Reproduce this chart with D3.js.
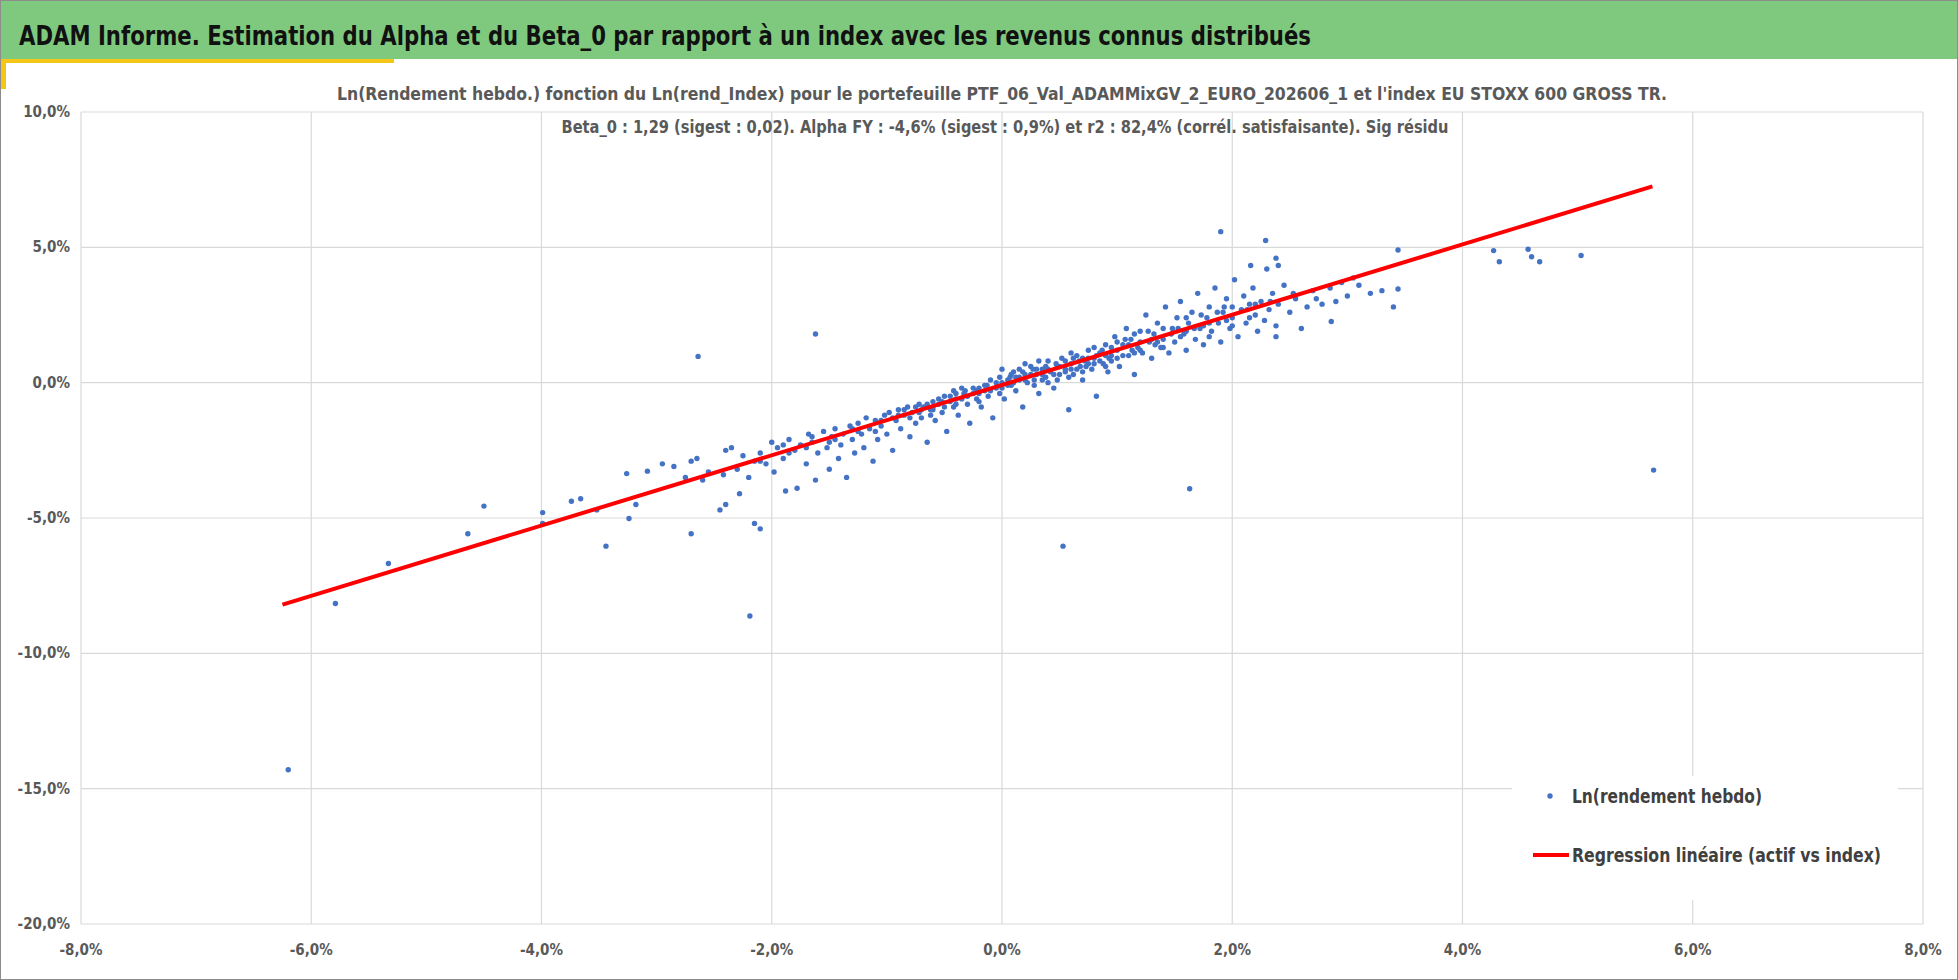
<!DOCTYPE html>
<html><head><meta charset="utf-8">
<script src="https://cdn.jsdelivr.net/npm/d3@7"></script>
<style>body{margin:0;background:#fff;}svg{display:block;}</style>
</head><body>
<script>
const title = "ADAM Informe. Estimation du Alpha et du Beta_0 par rapport à un index avec les revenus connus distribués";
const subtitle1 = "Ln(Rendement hebdo.) fonction du Ln(rend_Index) pour le portefeuille PTF_06_Val_ADAMMixGV_2_EURO_202606_1 et l'index EU STOXX 600 GROSS TR.";
const subtitle2 = "Beta_0 : 1,29 (sigest : 0,02).  Alpha FY : -4,6% (sigest : 0,9%) et r2 : 82,4% (corrél. satisfaisante). Sig résidu";
const xTicks = [-8,-6,-4,-2,0,2,4,6,8];
const yTicks = [10,5,0,-5,-10,-15,-20];
const seriesNames = ["Ln(rendement hebdo)", "Regression linéaire (actif vs index)"];
const regX = [-6.25, 5.65];
const regY = [-8.2, 7.25];
const points = [
[-6.2,-14.3],[-5.79,-8.16],[-5.33,-6.68],[-4.64,-5.58],[-4.5,-4.56],[-3.99,-4.8],[-3.99,-5.2],[-3.74,-4.38],[-3.66,-4.29],[-3.52,-4.7],[-3.44,-6.04],[-3.24,-5.02],[-3.18,-4.5],[-3.26,-3.36],[-3.08,-3.27],[-2.7,-5.58],[-2.64,0.97],[-1.62,1.8],[-2.19,-8.62],[-2.15,-5.2],[-2.1,-5.4],[-2.4,-4.5],[0.53,-6.04],[1.63,-3.92],[5.66,-3.23],[4.57,4.93],[4.6,4.65],[4.67,4.47],[5.03,4.7],[4.27,4.88],[4.32,4.47],[3.44,4.9],[3.44,3.46],[1.9,5.58],[2.29,5.25],[2.16,4.33],[2.38,4.6],[2.4,4.33],[2.86,2.26],[2.38,1.7],[3.05,3.87],
[-2.95,-3.0],[-2.85,-3.1],[-2.75,-3.5],[-2.7,-2.9],[-2.65,-2.8],[-2.6,-3.6],[-2.55,-3.3],[-2.45,-4.7],[-2.42,-3.4],[-2.4,-2.5],[-2.35,-2.4],[-2.3,-3.2],[-2.28,-4.1],[-2.25,-2.7],[-2.2,-3.5],[-2.15,-2.9],[-2.1,-2.6],[-2.05,-3.0],[-2.0,-2.2],[-1.98,-3.3],[-1.95,-2.4],[-1.9,-2.8],[-1.88,-4.0],[-1.85,-2.1],[-1.8,-2.5],[-1.78,-3.9],[-1.75,-2.3],[-1.7,-3.0],[-1.68,-1.9],[-1.65,-2.2],[-1.62,-3.6],[-1.6,-2.6],[-1.55,-1.8],[-1.52,-2.4],[-1.5,-3.2],[-1.48,-2.0],[-1.45,-1.7],[-1.42,-2.8],[-1.4,-2.3],[-1.38,-1.9],[-1.35,-3.5],[-1.32,-1.6],[-1.3,-2.1],[-1.28,-2.6],[-1.25,-1.5],[-1.22,-1.9],[-1.2,-2.4],[-1.18,-1.3],[-1.15,-1.7],[-1.12,-2.9],[-1.1,-1.4],[-1.08,-2.1],[-1.05,-1.6],[-1.02,-1.2],[-1.0,-1.9],[-0.98,-1.1],[-0.95,-2.5],[-0.92,-1.4],[-0.9,-1.0],[-0.88,-1.7],[-0.85,-1.2],[-0.82,-0.9],[-0.8,-2.0],[-0.78,-1.1],[-0.75,-1.5],[-0.72,-0.8],[-0.7,-1.3],[-0.68,-0.9],[-0.65,-2.2],[-0.62,-1.0],[-0.6,-0.7],[-0.58,-1.4],[-0.55,-0.8],[-0.52,-1.1],[-0.5,-0.5],[-0.48,-1.8],[-0.45,-0.7],[-0.42,-0.9],[-0.4,-0.4],[-0.38,-1.2],[-0.35,-0.6],[-0.32,-0.3],[-0.3,-0.8],[-0.28,-1.5],[-0.25,-0.4],[-0.22,-0.6],[-0.2,-0.2],[-0.18,-0.9],[-0.15,-0.3],[-0.12,-0.5],[-0.1,0.1],[-0.08,-1.3],[-0.05,-0.2],[-0.02,-0.4],[0,0.0],[0.02,-0.6],[0.05,0.1],[0.08,-0.1],[0.1,0.4],[0.12,-0.3],[0.15,0.2],[0.18,-0.9],[0.2,0.3],[0.22,0.0],[0.25,0.6],[0.28,0.1],[0.3,0.3],[0.32,-0.4],[0.35,0.5],[0.38,0.2],[0.4,0.8],[0.42,0.4],[0.45,-0.2],[0.48,0.6],[0.5,0.3],[0.52,0.9],[0.55,0.5],[0.58,-1.0],[0.6,0.7],[0.62,0.3],[0.65,1.0],[0.68,0.6],[0.7,0.1],[0.72,0.8],[0.75,1.2],[0.78,0.5],[0.8,0.9],[0.82,-0.5],[0.85,1.1],[0.88,0.7],[0.9,1.4],[0.92,0.4],[0.95,1.0],[0.98,1.7],[1.0,1.2],[1.02,0.6],[1.05,1.4],[1.08,2.0],[1.1,1.0],[1.12,1.6],[1.15,0.3],[1.18,1.3],[1.2,1.9],[1.22,1.1],[1.25,2.5],[1.28,1.5],[1.3,0.9],[1.32,1.8],[1.35,2.2],[1.38,1.3],[1.4,1.6],[1.42,2.8],[1.45,1.1],[1.48,2.0],[1.5,1.5],[1.52,2.4],[1.55,3.0],[1.58,1.8],[1.6,1.2],[1.62,2.2],[1.65,2.6],[1.68,1.6],[1.7,3.3],[1.72,2.0],[1.75,1.4],[1.78,2.4],[1.8,2.8],[1.82,1.9],[1.85,3.5],[1.88,2.2],[1.9,1.5],[1.92,2.6],[1.95,3.1],[1.98,2.0],[2.0,2.4],[2.02,3.8],[2.05,1.7],[2.08,2.7],[2.1,3.2],[2.12,2.2],[2.15,2.9],[2.18,3.5],[2.2,2.5],[2.22,1.9],[2.25,3.0],[2.28,2.3],[2.3,4.2],[2.32,2.7],[2.35,3.3],[2.38,2.1],[2.4,2.9],[2.45,3.6],[2.5,2.6],[2.55,3.1],[2.6,2.0],[2.65,2.8],[2.7,3.4],[2.78,2.9],[2.85,3.5],[2.9,3.0],[2.95,3.7],[3.0,3.2],[3.1,3.6],[3.2,3.3],[3.3,3.4],[3.4,2.8],
[-0.9,-1.2],[-0.7,-1.0],[-0.5,-0.9],[-0.3,-0.5],[-0.1,-0.3],[0.1,0.0],[0.3,0.5],[0.5,0.6],[0.7,0.9],[0.9,1.0],[1.1,1.4],[1.3,1.6],[0.15,0.5],[0.35,0.1],[0.55,0.8],[0.75,0.7],[0.95,1.3],[0.45,0.3],[0.65,0.5],[0.85,0.8],[0.25,0.3],[-0.15,-0.1],[-0.35,-0.2],[-0.55,-0.6],[-0.75,-0.9],[-0.95,-1.3],[0.05,-0.1],[0.6,1.1],[0.8,1.3],[1.0,0.9],[1.2,1.5],[1.4,2.0],[1.6,1.9],[1.8,2.2],[2.0,2.8],[-1.1,-1.8],[-1.3,-1.7],[-1.5,-2.2],[-1.7,-2.4],[-1.9,-2.3],[-2.1,-2.9],[0.4,0.0],[0.7,0.4],[0.2,0.7],[0.0,0.5],[-0.2,-0.7],[-0.4,-0.6],[-0.6,-1.0],[0.9,0.6],[1.05,1.0],[1.15,1.8],[0.58,0.2],[0.32,0.8],[0.12,0.2],
[-0.85,-1.0],[-0.65,-0.8],[-0.45,-0.5],[-0.25,-0.2],[-0.05,0.0],[0.15,0.1],[0.35,0.3],[0.55,0.4],[0.75,0.9],[0.95,0.8],[1.15,1.1],[1.35,1.5],[1.55,1.7],[1.75,2.1],[1.95,2.3],[2.15,2.4],[-0.8,-1.3],[-0.6,-0.9],[-0.4,-0.8],[-0.2,-0.4],[0.0,-0.2],[0.2,0.1],[0.4,0.5],[0.6,0.5],[0.8,0.7],[1.0,1.5],[1.2,1.2],[1.4,1.3],[1.6,2.4],[1.8,1.7],[2.0,2.1],[2.2,2.9],[-0.72,-1.1],[-0.52,-0.7],[-0.33,-0.4],[-0.13,-0.1],[0.07,0.2],[0.27,0.5],[0.47,0.7],[0.67,0.8],[0.87,1.2],[1.07,1.6],[1.27,1.9],[1.47,1.8],[1.67,2.0],[1.87,2.6],[-1.05,-1.4],[-1.25,-1.8],[-1.45,-2.1],[-1.65,-2.0],[-1.85,-2.6],[0.38,0.6],[0.62,0.9],[0.82,1.0],[0.18,0.4],[-0.02,0.2],[-0.22,-0.3],[-0.42,-0.3],[-0.62,-1.2],[0.48,0.1],[0.28,-0.1],[0.08,0.3],[0.73,0.6],[0.93,0.9],[1.13,1.2],[1.33,1.4],[1.53,2.0],[1.73,2.5],[1.93,2.8],[2.13,2.7],[2.33,3.0],[2.53,3.3],[2.73,3.1]
];

const W=1958,H=980;
const svg=d3.select("body").append("svg").attr("width",W).attr("height",H);
const font="'DejaVu Sans Condensed','Liberation Sans',sans-serif";
svg.append("rect").attr("x",0.5).attr("y",0.5).attr("width",W-1).attr("height",H-1).attr("fill","#fff").attr("stroke","#8c8c8c");
svg.append("rect").attr("x",1).attr("y",1).attr("width",W-2).attr("height",58).attr("fill","#7fc97f");
svg.append("rect").attr("x",1).attr("y",59).attr("width",393).attr("height",4).attr("fill","#f5c518");
svg.append("rect").attr("x",1).attr("y",59).attr("width",5).attr("height",30).attr("fill","#f5c518");
svg.append("text").attr("x",19).attr("y",45).attr("font-family",font).attr("font-size",27).attr("font-weight","bold").attr("fill","#111")
  .attr("textLength",1292).attr("lengthAdjust","spacingAndGlyphs").text(title);

const x=d3.scaleLinear().domain([-8,8]).range([81,1923]);
const y=d3.scaleLinear().domain([-20,10]).range([924,112]);

const g=svg.append("g");
g.selectAll(".gx").data(xTicks).join("line").attr("x1",d=>x(d)).attr("x2",d=>x(d)).attr("y1",y(10)).attr("y2",y(-20)).attr("stroke","#d9d9d9").attr("stroke-width",1.2);
g.selectAll(".gy").data(yTicks).join("line").attr("y1",d=>y(d)).attr("y2",d=>y(d)).attr("x1",x(-8)).attr("x2",x(8)).attr("stroke","#d9d9d9").attr("stroke-width",1.2);
const fmt=d=>d.toFixed(1).replace(".",",")+"%";
g.selectAll(".ty").data(yTicks).join("text").attr("x",70).attr("y",d=>y(d)+5).attr("text-anchor","end").attr("font-family",font).attr("font-size",15).attr("font-weight","bold").attr("fill","#595959").text(fmt);
g.selectAll(".tx").data(xTicks).join("text").attr("x",d=>x(d)).attr("y",955).attr("text-anchor","middle").attr("font-family",font).attr("font-size",15).attr("font-weight","bold").attr("fill","#595959").text(fmt);

svg.append("text").attr("x",1002).attr("y",100).attr("text-anchor","middle").attr("font-family",font).attr("font-size",18).attr("font-weight","bold").attr("fill","#595959").attr("textLength",1330).attr("lengthAdjust","spacingAndGlyphs").text(subtitle1);
svg.append("text").attr("x",1005).attr("y",133).attr("text-anchor","middle").attr("font-family",font).attr("font-size",18).attr("font-weight","bold").attr("fill","#595959").attr("textLength",887).attr("lengthAdjust","spacingAndGlyphs").text(subtitle2);

g.selectAll(".pt").data(points).join("circle").attr("cx",d=>x(d[0])).attr("cy",d=>y(d[1])).attr("r",2.7).attr("fill","#4472c4");
g.append("line").attr("x1",x(regX[0])).attr("y1",y(regY[0])).attr("x2",x(regX[1])).attr("y2",y(regY[1])).attr("stroke","#ff0000").attr("stroke-width",4);

const lg=svg.append("g");
lg.append("rect").attr("x",1512).attr("y",776).attr("width",386).attr("height",124).attr("fill","#fff");
lg.append("circle").attr("cx",1550).attr("cy",796).attr("r",2.7).attr("fill","#4472c4");
lg.append("text").attr("x",1572).attr("y",803).attr("font-family",font).attr("font-size",20).attr("font-weight","bold").attr("fill","#404040").attr("textLength",190).attr("lengthAdjust","spacingAndGlyphs").text(seriesNames[0]);
lg.append("line").attr("x1",1533).attr("x2",1569).attr("y1",855).attr("y2",855).attr("stroke","#ff0000").attr("stroke-width",4);
lg.append("text").attr("x",1572).attr("y",862).attr("font-family",font).attr("font-size",20).attr("font-weight","bold").attr("fill","#404040").attr("textLength",309).attr("lengthAdjust","spacingAndGlyphs").text(seriesNames[1]);
</script>
</body></html>
